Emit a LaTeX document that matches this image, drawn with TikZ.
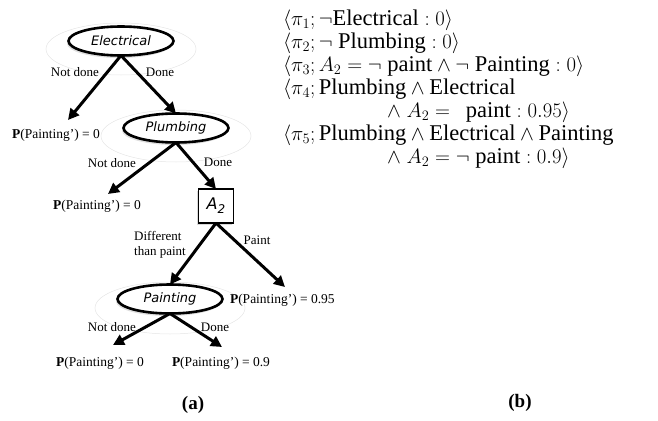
\documentclass[tikz,border=0pt]{standalone}
\usepackage[no-math]{fontspec}
\setmainfont{Liberation Serif}
\newfontfamily\handfont{DejaVu Sans}
\usetikzlibrary{arrows.meta,shapes.geometric,shadows}
\newcommand\tx[1]{\mbox{\fontsize{22.5}{22.5}\selectfont #1}}
\begin{document}
\begin{tikzpicture}[x=1pt,y=-1pt,
  every node/.style={inner sep=0pt, outer sep=0pt},
  var/.style={ellipse, draw, line width=2.6pt, fill=white, minimum width=105pt, minimum height=29pt,
     font=\handfont\itshape\fontsize{13}{13}\selectfont,
     drop shadow={shadow xshift=-1.5pt, shadow yshift=-2.5pt, opacity=0.25}},
  actbox/.style={rectangle, draw, line width=1.8pt, fill=white, minimum width=35pt, minimum height=34pt,
     font=\handfont\itshape\fontsize{16}{16}\selectfont,
     drop shadow={shadow xshift=-2pt, shadow yshift=-2pt, opacity=0.3}},
  lab/.style={font=\fontsize{13}{15}\selectfont},
  leaf/.style={font=\fontsize{13.5}{15}\selectfont},
  arr/.style={line width=3pt, -{Triangle[length=11pt,width=11pt]}},
  halo/.style={draw=gray!20, line width=0.5pt},
  formula/.style={anchor=base west, font=\fontsize{21}{22}\selectfont},
  captxt/.style={font=\bfseries\fontsize{19}{20}\selectfont}]
\path[use as bounding box] (0,0) rectangle (658,420);

% halos
\draw[halo] (121,49) circle[x radius=75pt, y radius=26pt];
\draw[halo] (176,136) circle[x radius=75pt, y radius=26pt];
\draw[halo] (170,308) circle[x radius=75pt, y radius=26pt];

% nodes
\node[var] (elec) at (121,41) {Electrical};
\node[var] (plumb) at (176,128) {Plumbing};
\node[actbox] (atwo) at (216,206) {A\raisebox{-4pt}{\fontsize{12}{12}\selectfont 2}};
\node[var] (paintg) at (170,299) {Painting};

% leaves
\node[leaf] (p1) at (56,135) {\textbf{P}(Painting') = 0};
\node[leaf] (p2) at (97,206) {\textbf{P}(Painting') = 0};
\node[leaf, anchor=west] (p3) at (230,300) {\textbf{P}(Painting') = 0.95};
\node[leaf] (p4) at (100,363) {\textbf{P}(Painting') = 0};
\node[leaf, anchor=west] (p5) at (172,363) {\textbf{P}(Painting') = 0.9};

% tips
\coordinate (t1) at (68,120);
\coordinate (t2) at (108,194);
\coordinate (t3) at (285,287);
\coordinate (t4) at (113,345);
\coordinate (t5) at (222,347);

% edges
\draw[arr] (elec.south) -- (t1);
\draw[arr] (elec.south) -- (plumb.north);
\draw[arr] (plumb.south) -- (t2);
\draw[arr] (plumb.south) -- (atwo.north);
\draw[arr] (atwo.south) -- (paintg.north);
\draw[arr] (atwo.south) -- (t3);
\draw[arr] (paintg.south) -- (t4);
\draw[arr] (paintg.south) -- (t5);

% edge labels
\node[lab] (nd1) at (75,72) {Not done};
\node[lab] (d1) at (160,72) {Done};
\node[lab] (nd2) at (112,163) {Not done};
\node[lab] (d2) at (218,162) {Done};
\node[lab, align=left] (diff) at (160,245) {Different\\than paint};
\node[lab] (pt) at (257,240) {Paint};
\node[lab] (nd3) at (112,327) {Not done};
\node[lab] (d3) at (215,327) {Done};

% formulas
\node[formula] (f1) at (283,25.5) {$\langle\pi_1;\neg\tx{Electrical}:0\rangle$};
\node[formula] (f2) at (283,48.5) {$\langle\pi_2;\neg\tx{ Plumbing}:0\rangle$};
\node[formula] (f3) at (283,71.5) {$\langle\pi_3;A_2=\neg\tx{ paint}\wedge\neg\tx{ Painting}:0\rangle$};
\node[formula] (f4) at (283,94.5) {$\langle\pi_4;\tx{Plumbing}\wedge\tx{Electrical}$};
\node[formula] (f5) at (387,117.5) {$\wedge\;A_2=\tx{\hspace{0.2em} paint}:0.95\rangle$};
\node[formula] (f6) at (283,140.5) {$\langle\pi_5;\tx{Plumbing}\wedge\tx{Electrical}\wedge\tx{Painting}$};
\node[formula] (f7) at (387,163.5) {$\wedge\;A_2=\neg\tx{ paint}:0.9\rangle$};

% captions
\node[captxt] (ca) at (193,405) {(a)};
\node[captxt] (cb) at (520,403) {(b)};
\end{tikzpicture}
\end{document}
